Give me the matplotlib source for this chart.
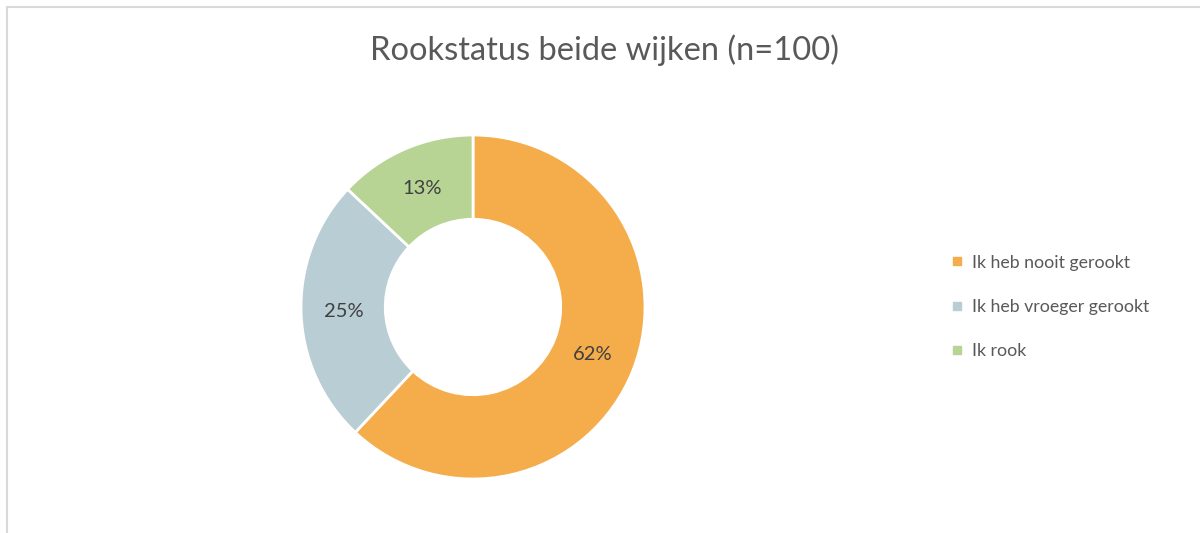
import matplotlib
matplotlib.use("Agg")
import matplotlib.pyplot as plt
from matplotlib.lines import Line2D
from matplotlib.patches import Rectangle

categories = ["Ik heb nooit gerookt", "Ik heb vroeger gerookt", "Ik rook"]
values = [62, 25, 13]
colors = ["#F5AC4A", "#B9CDD4", "#B7D494"]
title = "Rookstatus beide wijken (n=100)"

plt.rcParams['font.family'] = ['Lato', 'DejaVu Sans']

fig = plt.figure(figsize=(12, 5.33), dpi=100)
fig.patch.set_facecolor("white")

# light gray frame (left and top visible)
fig.add_artist(Rectangle((7/1200, -0.05), 1.2, 1 - 7/533 + 0.05, transform=fig.transFigure,
                         fill=False, edgecolor="#D9D9D9", linewidth=1.5))

ax = fig.add_axes([301/1200, 54/533, 344/1200, 344/533])
wedges, texts, autotexts = ax.pie(
    values, colors=colors, startangle=90, counterclock=False,
    radius=1.0, autopct=lambda p: f"{p:.0f}%", pctdistance=0.75,
    wedgeprops=dict(width=0.49, edgecolor="white", linewidth=2),
    textprops=dict(color="#404040", fontsize=14.5))
ax.set_xlim(-1, 1)
ax.set_ylim(-1, 1)
ax.set_aspect("equal")
ax.axis("off")

fig.text(604/1200, 1 - 50/533, title, ha="center", va="center",
         fontsize=23.5, color="#595959")

handles = [Line2D([0], [0], marker="s", linestyle="none", markersize=6,
                  markerfacecolor=c, markeredgecolor=c) for c in colors]
leg = fig.legend(handles, categories, loc="center left",
                 bbox_to_anchor=(936/1200, 1 - 307/533), frameon=False,
                 fontsize=12.8, labelspacing=1.6, handlelength=0.6,
                 handletextpad=0.5, labelcolor="#595959")

fig.savefig("out.png", dpi=100, facecolor="white")
